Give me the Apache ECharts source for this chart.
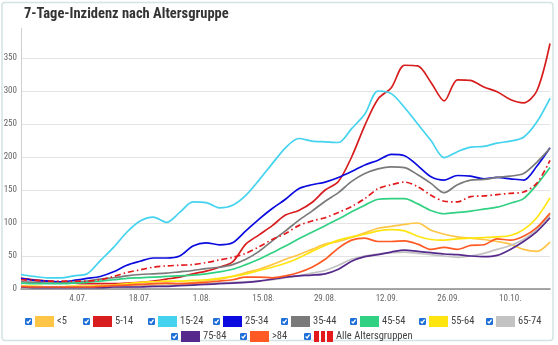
<!DOCTYPE html>
<html>
<head>
<meta charset="utf-8">
<script src="https://cdn.jsdelivr.net/npm/echarts@6/dist/echarts.min.js"></script>
<style>
  html, body { margin: 0; padding: 0; background: #fff; }
  #chart { width: 558px; height: 345px; }
</style>
</head>
<body>
<div id="chart"></div>
<script>
// Sample dates (every third day) of the 7-day incidence per age group
const sampleDates = [
  '2021-06-21','2021-06-24','2021-06-27','2021-06-30','2021-07-03','2021-07-06','2021-07-09',
  '2021-07-12','2021-07-15','2021-07-18','2021-07-21','2021-07-24','2021-07-27','2021-07-30',
  '2021-08-02','2021-08-05','2021-08-08','2021-08-11','2021-08-14','2021-08-17','2021-08-20',
  '2021-08-23','2021-08-26','2021-08-29','2021-09-01','2021-09-04','2021-09-07','2021-09-10',
  '2021-09-13','2021-09-16','2021-09-19','2021-09-22','2021-09-25','2021-09-28','2021-10-01',
  '2021-10-04','2021-10-07','2021-10-10','2021-10-13','2021-10-16','2021-10-19'
];
const startDate = '2021-06-21';
const endDate = '2021-10-19';

const ageUnder5 = [4,4,3,3,4,4,4,5,5,5,6,6,8,10,12,15,19,25,30,37,45,52,60,68,72,78,85,92,95,98,100,89,83,79,77,75,72,68,60,57,71];
const age5to14 = [16,14,12,10,9,8,8,8,9,10,12,15,18,23,27,33,41,68,82,96,112,119,131,150,163,200,248,288,305,339,338,313,285,317,316,306,299,287,282,300,372];
const age15to24 = [22,19,17,17,20,23,43,63,86,103,109,101,116,132,131,123,127,142,165,190,214,228,224,223,222,243,265,300,296,275,250,225,199,208,215,216,221,224,230,253,289];
const age25to34 = [16,13,12,11,13,16,19,26,36,42,47,47,50,65,70,67,70,88,106,122,136,152,158,162,169,178,188,195,204,202,187,170,165,172,171,167,169,167,165,186,214];
const age35to44 = [11,10,9,9,10,12,15,17,20,22,23,24,26,28,31,33,37,45,57,73,88,104,118,133,146,163,175,182,185,184,173,160,146,158,165,166,169,171,175,192,213];
const age45to54 = [9,8,8,8,9,10,12,14,16,17,18,19,20,21,23,26,30,37,45,55,65,76,86,96,106,117,127,136,137,137,129,119,114,116,118,121,124,130,137,158,184];
const age55to64 = [4,4,3,3,4,4,5,6,8,10,11,12,12,13,14,16,19,23,28,33,39,47,57,66,74,79,83,88,90,88,80,75,74,76,77,78,79,81,90,108,138];
const age65to74 = [3,3,3,2,2,2,3,3,3,4,4,5,6,7,8,9,10,11,12,14,17,20,24,28,36,45,50,53,55,56,54,52,50,48,50,54,60,66,75,90,112];
const age75to84 = [3,2,2,2,2,2,2,3,3,3,4,4,5,6,7,8,9,10,12,15,18,20,21,23,30,42,49,52,56,59,57,55,53,52,50,49,51,60,72,87,108];
const ageOver84 = [4,3,3,3,3,3,4,5,6,7,8,9,8,9,10,12,14,18,18,17,20,25,33,45,62,74,77,72,72,73,68,60,63,60,66,67,76,74,80,93,115];
const allAges = [14,13,12,12,12,12,14,19,25,29,33,35,36,37,40,44,48,54,64,75,84,96,103,108,116,125,137,152,158,162,155,142,133,132,140,141,143,145,147,160,195];

const groupNames = ['<5','5-14','15-24','25-34','35-44','45-54','55-64','65-74','75-84','>84','Alle Altersgruppen'];
const groupValues = [ageUnder5, age5to14, age15to24, age25to34, age35to44, age45to54, age55to64, age65to74, age75to84, ageOver84, allAges];
const groupColors = ['#ffc547','#d71d1d','#44d3ee','#0b0be0','#7a7a7a','#31d183','#ffe50f','#c3c3c3','#56298c','#ff5a24','#e3191c'];

const yTicks = [0, 50, 100, 150, 200, 250, 300, 350];

const DAY = 86400000;
const t0 = Date.parse(startDate);
const dayIndex = s => Math.round((Date.parse(s) - t0) / DAY);
const lastDay = dayIndex(endDate);
const firstLabelDay = dayIndex('2021-07-04');

function fmtDay(v) {
  const d = new Date(t0 + v * DAY);
  const mm = String(d.getUTCMonth() + 1).padStart(2, '0');
  return d.getUTCDate() + '.' + mm + '.';
}

// legend icon: checked checkbox followed by a colour swatch
function legendIcon(color, dashed) {
  let swatch;
  if (dashed) {
    swatch = `<rect x="10" y="0" width="5" height="11" fill="${color}"/>` +
             `<rect x="17" y="0" width="4" height="11" fill="${color}"/>` +
             `<rect x="23" y="0" width="6" height="11" fill="${color}"/>`;
  } else {
    swatch = `<rect x="10" y="0" width="19" height="11" fill="${color}"/>`;
  }
  const svg = `<svg xmlns="http://www.w3.org/2000/svg" width="29" height="11" viewBox="0 0 29 11">` +
    `<rect x="0" y="2" width="7" height="7" rx="1.2" fill="#1f6fd8"/>` +
    `<path d="M1.6 5.6 L3.1 7 L5.6 3.6" stroke="#fff" stroke-width="1.3" fill="none"/>` +
    swatch + `</svg>`;
  return 'image://data:image/svg+xml;charset=utf-8,' + encodeURIComponent(svg);
}

const font = "'Liberation Sans Narrow', 'Roboto Condensed', 'Arial Narrow', Roboto, sans-serif";

const legendSpots = [
  [20, 311], [78, 311], [143, 311], [208, 311], [276, 311], [345, 311], [414, 311], [481, 311],
  [166, 326], [235, 326], [299, 326]
];

const legends = groupNames.map((name, i) => ({
  left: legendSpots[i][0],
  top: legendSpots[i][1],
  itemWidth: 29,
  itemHeight: 11,
  selectedMode: false,
  data: [{ name: name, icon: legendIcon(groupColors[i], i === 10) }],
  textStyle: { color: '#444', fontSize: 10.5, fontFamily: font, padding: [0, 0, 0, -2] }
}));

const series = groupNames.map((name, i) => ({
  name: name,
  type: 'line',
  showSymbol: false,
  smooth: 0.3,
  color: groupColors[i],
  lineStyle: {
    width: 1.7,
    color: groupColors[i],
    type: i === 10 ? [6, 3, 1.5, 3] : 'solid'
  },
  z: i === 10 ? 5 : 3,
  data: sampleDates.map((s, k) => [dayIndex(s), groupValues[i][k]])
}));

const chart = echarts.init(document.getElementById('chart'), null, { renderer: 'canvas' });
chart.setOption({
  backgroundColor: '#fff',
  animation: false,
  title: {
    text: '7-Tage-Inzidenz nach Altersgruppe',
    left: 19,
    top: 2,
    textStyle: { fontSize: 14.5, fontWeight: 'bold', color: '#333', fontFamily: font }
  },
  graphic: [{
    type: 'rect',
    shape: { x: 2, y: 2.5, width: 551, height: 338, r: 3 },
    style: { fill: 'none', stroke: '#d3e2e2', lineWidth: 1.5 },
    silent: true,
    z: 0
  }],
  legend: legends,
  grid: { left: 21, right: 8, top: 28.3, bottom: 56, containLabel: false },
  xAxis: {
    type: 'value',
    min: 0,
    max: lastDay,
    interval: 1,
    axisLine: { show: true, lineStyle: { color: '#8a8a8a', width: 1.6 } },
    axisTick: { show: false },
    splitLine: { show: false },
    axisLabel: {
      color: '#666',
      fontSize: 9,
      fontFamily: font,
      margin: 5,
      formatter: v => ((v - firstLabelDay) % 14 === 0 && v >= firstLabelDay) ? fmtDay(v) : ''
    }
  },
  yAxis: {
    type: 'value',
    min: yTicks[0],
    max: 395,
    interval: yTicks[1] - yTicks[0],
    axisLine: { show: true, lineStyle: { color: '#cfcfcf', width: 1 } },
    axisTick: { show: false },
    splitLine: { show: true, showMaxLine: false, lineStyle: { color: '#e3e3e3', width: 1 } },
    axisLabel: {
      color: '#666', fontSize: 9, fontFamily: font, margin: 4, showMaxLabel: false,
      formatter: v => (yTicks.indexOf(v) >= 0 ? String(v) : '')
    }
  },
  series: series
});
</script>
</body>
</html>
